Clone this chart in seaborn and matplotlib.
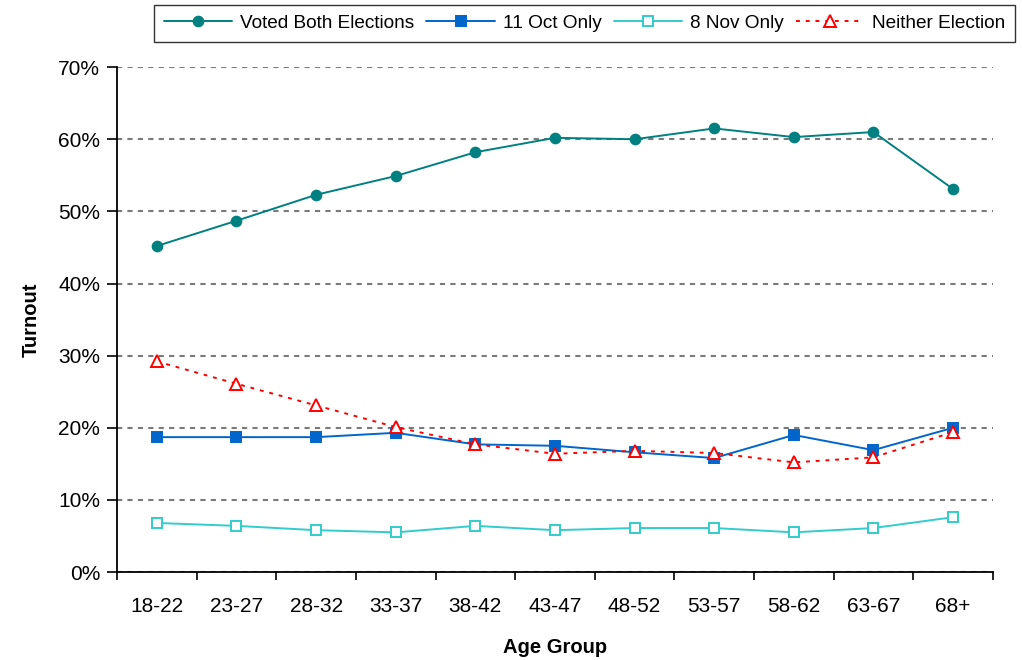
import numpy as np
import pandas as pd
import seaborn as sns
import matplotlib.pyplot as plt
from matplotlib.ticker import PercentFormatter

age_groups = ['18-22', '23-27', '28-32', '33-37', '38-42', '43-47',
              '48-52', '53-57', '58-62', '63-67', '68+']
both = [45.2, 48.7, 52.3, 54.9, 58.2, 60.2, 60.0, 61.5, 60.3, 61.0, 53.1]
oct_only = [18.7, 18.7, 18.7, 19.3, 17.7, 17.5, 16.6, 15.8, 19.0, 16.9, 20.0]
nov_only = [6.8, 6.4, 5.8, 5.5, 6.4, 5.8, 6.1, 6.1, 5.5, 6.1, 7.6]
neither = [29.2, 26.1, 23.1, 20.1, 17.7, 16.4, 16.8, 16.5, 15.2, 15.9, 19.4]

sns.set_theme(style='white')
plt.rcParams['font.family'] = ['Liberation Sans', 'DejaVu Sans']
plt.rcParams['text.color'] = 'black'
plt.rcParams['axes.labelcolor'] = 'black'
plt.rcParams['xtick.color'] = 'black'
plt.rcParams['ytick.color'] = 'black'

pos = np.arange(len(age_groups))
series = [
    ('Voted Both Elections', both, dict(color='#008080', marker='o', ms=7,
                                        mfc='#008080', mec='#008080', ls='-')),
    ('11 Oct Only', oct_only, dict(color='#0066CC', marker='s', ms=7,
                                   mfc='#0066CC', mec='#0066CC', ls='-')),
    ('8 Nov Only', nov_only, dict(color='#33CCCC', marker='s', ms=7,
                                  mfc='white', mec='#33CCCC', ls='-')),
    ('Neither Election', neither, dict(color='#FF0000', marker='^', ms=8,
                                       mfc='white', mec='#FF0000', ls=(0, (2, 3)))),
]

fig = plt.figure(figsize=(10.22, 6.6), dpi=100)
ax = fig.add_axes([0.1145, 0.1333, 0.857, 0.765])

for name, vals, st in series:
    df = pd.DataFrame({'x': pos, 'y': vals})
    sns.lineplot(data=df, x='x', y='y', ax=ax, label=name, lw=1.4,
                 color=st['color'], marker=st['marker'], markersize=st['ms'],
                 markerfacecolor=st['mfc'], markeredgecolor=st['mec'],
                 markeredgewidth=1.4, linestyle=st['ls'])

ax.set_xlim(-0.5, len(age_groups) - 0.5)
ax.set_ylim(0, 70)
ax.set_yticks(range(0, 71, 10))
ax.yaxis.set_major_formatter(PercentFormatter(decimals=0))
ax.grid(axis='y', color='#7a7a7a', ls=(0, (2.5, 2.5)), lw=1.5)
ax.set_axisbelow(True)

# category boundaries as ticks, labels in the middle
ax.set_xticks(np.arange(-0.5, len(age_groups), 1.0))
ax.set_xticklabels([])
ax.set_xticks(pos, minor=True)
ax.set_xticklabels(age_groups, minor=True)
ax.tick_params(axis='x', which='major', direction='out', length=6, width=1.2,
               bottom=True)
ax.tick_params(axis='x', which='minor', length=0, pad=18, labelsize=15)
ax.tick_params(axis='y', direction='out', length=7, width=1.2,
               left=True, labelsize=15, pad=5)

for s in ['top', 'right']:
    ax.spines[s].set_visible(False)
for s in ['left', 'bottom']:
    ax.spines[s].set_color('black')
    ax.spines[s].set_linewidth(1.3)

ax.set_xlabel('Age Group', fontsize=14.5, fontweight='bold', labelpad=16)
ax.set_ylabel('Turnout', fontsize=14.5, fontweight='bold', labelpad=13)

leg = ax.legend(loc='upper center', bbox_to_anchor=(0.572, 0.992),
                bbox_transform=fig.transFigure, ncol=4, fontsize=13.7,
                frameon=True, fancybox=False, edgecolor='black',
                handlelength=3.6, columnspacing=0.65, handletextpad=0.4,
                borderpad=0.5, borderaxespad=0)
leg.get_frame().set_linewidth(1.0)

fig.savefig('out.png', dpi=100)
